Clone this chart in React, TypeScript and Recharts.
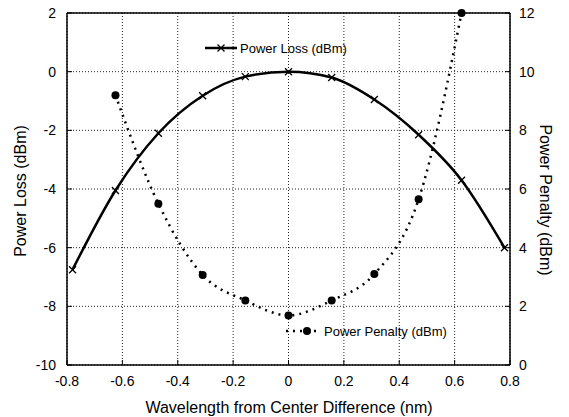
import { CartesianGrid, Line, LineChart, XAxis, YAxis } from "recharts";

const lossWavelength = [-0.78, -0.625, -0.47, -0.31, -0.156, 0, 0.156, 0.31, 0.47, 0.625, 0.78];
const powerLoss = [-6.75, -4.05, -2.1, -0.82, -0.17, 0, -0.2, -0.95, -2.15, -3.7, -6.0];

const penaltyWavelength = [-0.625, -0.47, -0.31, -0.156, 0, 0.156, 0.31, 0.47, 0.625];
const powerPenalty = [9.2, 5.5, 3.07, 2.2, 1.69, 2.2, 3.1, 5.65, 12];

const xTicks = [-0.8, -0.6, -0.4, -0.2, 0, 0.2, 0.4, 0.6, 0.8];
const lossTicks = [-10, -8, -6, -4, -2, 0, 2];
const penaltyTicks = [0, 2, 4, 6, 8, 10, 12];

const lossData = lossWavelength.map((x, i) => ({ x, loss: powerLoss[i] }));
const penaltyData = penaltyWavelength.map((x, i) => ({ x, penalty: powerPenalty[i] }));

const FONT = "Liberation Sans, Arial, sans-serif";

const CrossDot = (props: any) => {
  const { cx, cy } = props;
  if (cx == null || cy == null) return null;
  const s = 3.5;
  return (
    <path
      d={`M${cx - s},${cy - s}L${cx + s},${cy + s}M${cx - s},${cy + s}L${cx + s},${cy - s}`}
      stroke="#000"
      strokeWidth={1.3}
      fill="none"
    />
  );
};

const App = () => {
  return (
    <div style={{ position: "relative", width: 561, height: 417, marginTop: -8 }}>
      <style>{`
        .recharts-cartesian-axis-tick-value { fill: #000; font-size: 14px; font-family: ${FONT}; }
        .recharts-cartesian-axis-line { stroke: #000; stroke-width: 1.5px; }
        .recharts-cartesian-axis-tick-line { stroke: #000; }
      `}</style>
      <LineChart width={561} height={417} margin={{ top: 8, right: 0, bottom: 0, left: 0 }}>
        <CartesianGrid yAxisId="left" stroke="#222" strokeDasharray="1 2" />
        <XAxis
          type="number"
          dataKey="x"
          domain={[-0.8, 0.8]}
          ticks={xTicks}
          height={52}
          tickSize={-5}
          tickMargin={16}
          axisLine={{ stroke: "#000" }}
        />
        <XAxis
          xAxisId="top"
          orientation="top"
          type="number"
          dataKey="x"
          domain={[-0.8, 0.8]}
          ticks={xTicks}
          height={5}
          tick={false}
          tickSize={-5}
          axisLine={{ stroke: "#000" }}
        />
        <YAxis
          yAxisId="left"
          domain={[-10, 2]}
          ticks={lossTicks}
          width={59}
          tickSize={-5}
          tickMargin={16}
          axisLine={{ stroke: "#000" }}
        />
        <YAxis
          yAxisId="right"
          orientation="right"
          domain={[0, 12]}
          ticks={penaltyTicks}
          width={59}
          tickSize={-5}
          tickMargin={14}
          axisLine={{ stroke: "#000" }}
        />

        <Line
          data={lossData}
          yAxisId="left"
          dataKey="loss"
          type="monotone"
          stroke="#000"
          strokeWidth={2.5}
          dot={<CrossDot />}
          activeDot={false}
          isAnimationActive={false}
        />
        <Line
          data={penaltyData}
          xAxisId="top"
          yAxisId="right"
          dataKey="penalty"
          type="monotone"
          stroke="#000"
          strokeWidth={2.5}
          strokeDasharray="2 5"
          dot={{ r: 4, fill: "#000", stroke: "none" }}
          activeDot={false}
          isAnimationActive={false}
        />
      </LineChart>

      <svg
        width={561}
        height={417}
        style={{ position: "absolute", left: 0, top: 0, pointerEvents: "none" }}
        fontFamily={FONT}
      >
        <text x={12} y={191} transform="rotate(-90 12 191)" textAnchor="middle" dominantBaseline="central" fontSize={16} fill="#000">
          Power Loss (dBm)
        </text>
        <text x={537} y={200} transform="rotate(90 537 200)" textAnchor="middle" dominantBaseline="central" fontSize={16} fill="#000">
          Power Penalty (dBm)
        </text>
        <text x={281} y={413} textAnchor="middle" fontSize={16} fill="#000">
          Wavelength from Center Difference (nm)
        </text>

        <line x1={197} y1={48} x2={229} y2={48} stroke="#000" strokeWidth={2.5} />
        <path d="M209.5,44.5L216.5,51.5M209.5,51.5L216.5,44.5" stroke="#000" strokeWidth={1.3} />
        <text x={232} y={52.5} fontSize={13} fill="#000">
          Power Loss (dBm)
        </text>

        <line x1={278} y1={331} x2={312} y2={331} stroke="#000" strokeWidth={2.5} strokeDasharray="2 5" />
        <circle cx={299} cy={331} r={4} fill="#000" />
        <text x={316} y={335.5} fontSize={13} fill="#000">
          Power Penalty (dBm)
        </text>
      </svg>
    </div>
  );
};

export default App;
